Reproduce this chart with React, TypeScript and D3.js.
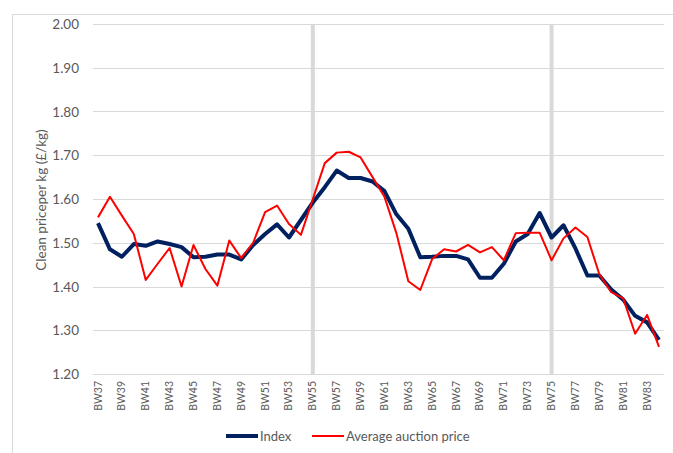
import React, { useEffect, useRef } from "react";
import * as d3 from "d3";

const weeks = d3.range(37, 85).map((w) => "BW" + w);

const indexValues = [
  1.545, 1.485, 1.468, 1.497, 1.493, 1.503, 1.497, 1.49, 1.467, 1.468, 1.473, 1.473,
  1.462, 1.495, 1.52, 1.542, 1.512, 1.552, 1.592, 1.627, 1.665, 1.648, 1.648, 1.64,
  1.618, 1.565, 1.532, 1.467, 1.468, 1.47, 1.47, 1.462, 1.42, 1.42, 1.452, 1.503,
  1.52, 1.568, 1.512, 1.54, 1.487, 1.425, 1.425, 1.393, 1.37, 1.333, 1.318, 1.278,
];

const auctionValues = [
  1.558, 1.605, 1.562, 1.52, 1.415, 1.452, 1.488, 1.4, 1.495, 1.44, 1.402, 1.505,
  1.465, 1.5, 1.57, 1.585, 1.543, 1.518, 1.6, 1.682, 1.706, 1.708, 1.695, 1.65,
  1.605, 1.522, 1.412, 1.392, 1.463, 1.485, 1.48, 1.495, 1.478, 1.49, 1.46, 1.522,
  1.523, 1.523, 1.46, 1.51, 1.535, 1.513, 1.428, 1.387, 1.373, 1.292, 1.335, 1.262,
];

const yTicks = [1.2, 1.3, 1.4, 1.5, 1.6, 1.7, 1.8, 1.9, 2.0];
const markerWeeks = ["BW55", "BW75"];

const series = [
  { name: "Index", values: indexValues, color: "#002060", width: 4 },
  { name: "Average auction price", values: auctionValues, color: "#ff0000", width: 2 },
];

const font = "Lato, sans-serif";

export default function App() {
  const ref = useRef<SVGSVGElement>(null);

  useEffect(() => {
    const svg = d3.select(ref.current);
    svg.selectAll("*").remove();

    // outer chart border
    svg.append("rect")
      .attr("x", 12.5).attr("y", 14.5)
      .attr("width", 700).attr("height", 480)
      .attr("fill", "none").attr("stroke", "#d9d9d9");

    const x = d3.scalePoint<string>().domain(weeks).range([98, 659]);
    const y = d3.scaleLinear().domain([1.2, 2.0]).range([374, 24]);

    // gridlines
    svg.append("g")
      .selectAll("line")
      .data(yTicks)
      .enter().append("line")
      .attr("x1", 93).attr("x2", 664)
      .attr("y1", (d) => Math.round(y(d)) + 0.5)
      .attr("y2", (d) => Math.round(y(d)) + 0.5)
      .attr("stroke", "#d9d9d9").attr("stroke-width", 1);

    // y tick labels
    svg.append("g")
      .selectAll("text")
      .data(yTicks)
      .enter().append("text")
      .attr("x", 79)
      .attr("y", (d) => y(d) + 5)
      .attr("text-anchor", "end")
      .attr("font-family", font).attr("font-size", 13.5)
      .attr("fill", "#595959")
      .text((d) => d.toFixed(2));

    // vertical marker lines
    svg.append("g")
      .selectAll("line")
      .data(markerWeeks)
      .enter().append("line")
      .attr("x1", (d) => x(d)!)
      .attr("x2", (d) => x(d)!)
      .attr("y1", 24).attr("y2", 375)
      .attr("stroke", "#d9d9d9").attr("stroke-width", 4);

    // x labels, every other week
    svg.append("g")
      .selectAll("text")
      .data(weeks.filter((_, i) => i % 2 === 0))
      .enter().append("text")
      .attr("transform", (d) => `translate(${x(d)! + 3.5},381) rotate(-90)`)
      .attr("text-anchor", "end")
      .attr("font-family", font).attr("font-size", 10.5)
      .attr("fill", "#595959")
      .text((d) => d);

    // y title
    svg.append("text")
      .attr("transform", "translate(46,200) rotate(-90)")
      .attr("text-anchor", "middle")
      .attr("font-family", font).attr("font-size", 13.5)
      .attr("fill", "#595959")
      .text("Clean priceper kg (£/kg)");

    const line = d3.line<number>()
      .x((_, i) => x(weeks[i])!)
      .y((d) => y(d));

    series.forEach((s) => {
      svg.append("path")
        .attr("d", line(s.values))
        .attr("fill", "none")
        .attr("stroke", s.color)
        .attr("stroke-width", s.width)
        .attr("stroke-linejoin", "round");
    });

    // legend
    const legend = svg.append("g");
    const items = [
      { s: series[0], x0: 226 },
      { s: series[1], x0: 312 },
    ];
    items.forEach(({ s, x0 }) => {
      legend.append("line")
        .attr("x1", x0).attr("x2", x0 + 32)
        .attr("y1", 436).attr("y2", 436)
        .attr("stroke", s.color).attr("stroke-width", s.width);
      legend.append("text")
        .attr("x", x0 + 34).attr("y", 441)
        .attr("font-family", font).attr("font-size", 13)
        .attr("fill", "#595959")
        .text(s.name);
    });
  }, []);

  return (
    <svg
      ref={ref}
      width={673}
      height={453}
      style={{ position: "absolute", left: 0, top: 0, background: "#fff" }}
    />
  );
}
